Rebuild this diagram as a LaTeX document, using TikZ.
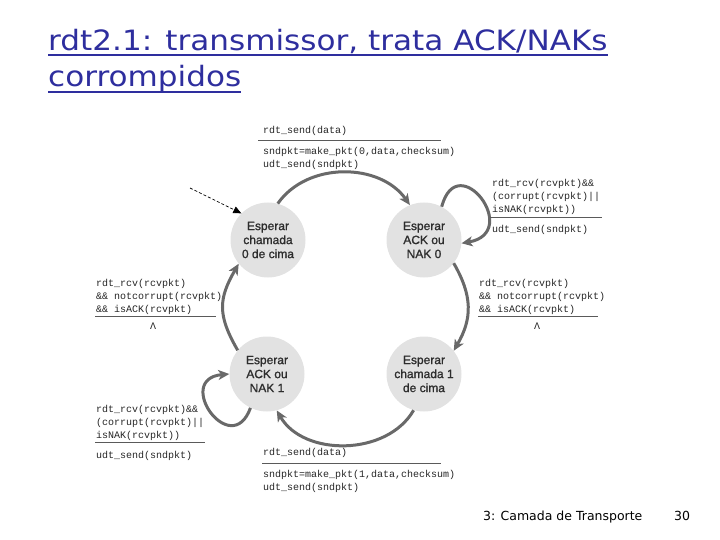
\documentclass[tikz,border=0pt]{standalone}
\usepackage{graphicx}
\usepackage{fontspec}
\setmainfont{DejaVu Sans}
\newfontfamily\monof{Liberation Mono}
\newfontfamily\statef[FakeBold=1.2]{Liberation Sans}
\newfontfamily\titlef{DejaVu Sans}
\usetikzlibrary{arrows.meta}
\definecolor{titleblue}{RGB}{46,46,158}
\definecolor{arcgray}{RGB}{105,105,105}
\definecolor{statefill}{RGB}{226,226,226}
\definecolor{statetext}{RGB}{45,45,45}
\definecolor{rulegray}{RGB}{90,90,90}
\begin{document}
\begin{tikzpicture}[x=1pt,y=-1pt,
  state/.style={circle, fill=statefill, draw=none, minimum size=75pt, inner sep=0pt,
    align=center, font=\statef\fontsize{12}{14}\selectfont, text=statetext},
  trans/.style={draw=arcgray, line width=3pt, -{Stealth[length=11pt,width=10pt,inset=3pt]}},
  lbl/.style={font=\monof\fontsize{10}{13}\selectfont, inner sep=0pt, anchor=north west,
    align=left, text=black!85},
  lam/.style={font=\monof\fontsize{10}{13}\selectfont, inner sep=0pt, text=black!85},
  sep/.style={draw=rulegray, line width=0.9pt},
  ttl/.style={font=\titlef\fontsize{28}{36}\selectfont, text=titleblue, anchor=base west, inner sep=0pt},
  uline/.style={draw=titleblue, line width=2.6pt},
  foot/.style={font=\titlef\fontsize{12.5}{15}\selectfont, text=black, anchor=base west, inner sep=0pt}
]
\useasboundingbox (0,0) rectangle (720,540);

% title
\node[ttl] (title1) at (48,51) {\scalebox{1.11}[1]{rdt2.1: transmissor, trata ACK/NAKs}};
\node[ttl] (title2) at (48,87) {\scalebox{1.11}[1]{corrompidos}};
\draw[uline] ([yshift=-4pt]title1.base west) -- ([yshift=-4pt]title1.base east);
\draw[uline] ([yshift=-5pt]title2.base west) -- ([yshift=-5pt]title2.base east);

% states
\node[state] (s0) at (268,240) {Esperar\\chamada\\0 de cima};
\node[state] (a0) at (424,240) {Esperar\\ACK ou\\NAK 0};
\node[state] (a1) at (267,374) {Esperar\\ACK ou\\NAK 1};
\node[state] (s1) at (424,374) {Esperar\\chamada 1\\de cima};

% initial arrow
\coordinate (init) at (190,188);
\draw[black, line width=0.7pt, dash pattern=on 3pt off 2pt, -{Triangle[length=8pt,width=7pt]}] (init) -- (s0.135);

% transitions
\draw[trans] (s0.75) to[out=55,in=125] (a0.112);
\draw[trans] (a0.62) to[out=75,in=10,looseness=3.8] (a0.-5);
\draw[trans] (a0.-38) to[out=-60,in=60,looseness=1.1] (s1.38);
\draw[trans] (s1.-106) to[out=-120,in=-60] (a1.-75);
\draw[trans] (a1.244) to[out=-110,in=185,looseness=3.6] (a1.180);
\draw[trans] (a1.141) to[out=120,in=-120,looseness=1.2] (s0.219);

% top label
\node[lbl] (l1a) at (263,126) {rdt\_send(data)};
\draw[sep] (258,140) -- (441,140);
\node[lbl] (l1b) at (263,147) {sndpkt=make\_pkt(0,data,checksum)\\udt\_send(sndpkt)};

% a0 self loop label
\node[lbl] (l2a) at (492,179) {rdt\_rcv(rcvpkt)\&\&\\(corrupt(rcvpkt)||\\isNAK(rcvpkt))};
\draw[sep] (490,217) -- (602,217);
\node[lbl] (l2b) at (492,225) {udt\_send(sndpkt)};

% right label
\node[lbl] (l3a) at (479,279) {rdt\_rcv(rcvpkt)\\\&\& notcorrupt(rcvpkt)\\\&\& isACK(rcvpkt)};
\draw[sep] (478,316) -- (598,316);
\node[lam] (l3b) at (537,326) {Λ};

% left label
\node[lbl] (l4a) at (96,279) {rdt\_rcv(rcvpkt)\\\&\& notcorrupt(rcvpkt)\\\&\& isACK(rcvpkt)};
\draw[sep] (95,316) -- (216,316);
\node[lam] (l4b) at (153,326) {Λ};

% a1 self loop label
\node[lbl] (l5a) at (96,405) {rdt\_rcv(rcvpkt)\&\&\\(corrupt(rcvpkt)||\\isNAK(rcvpkt))};
\draw[sep] (95,442) -- (205,442);
\node[lbl] (l5b) at (96,451) {udt\_send(sndpkt)};

% bottom label
\node[lbl] (l6a) at (263,448) {rdt\_send(data)};
\draw[sep] (262,463) -- (441,463);
\node[lbl] (l6b) at (263,470) {sndpkt=make\_pkt(1,data,checksum)\\udt\_send(sndpkt)};

% footer
\node[foot] (foot1) at (483,520) {3: Camada de Transporte};
\node[foot] (foot2) at (674,520) {30};
\end{tikzpicture}
\end{document}
